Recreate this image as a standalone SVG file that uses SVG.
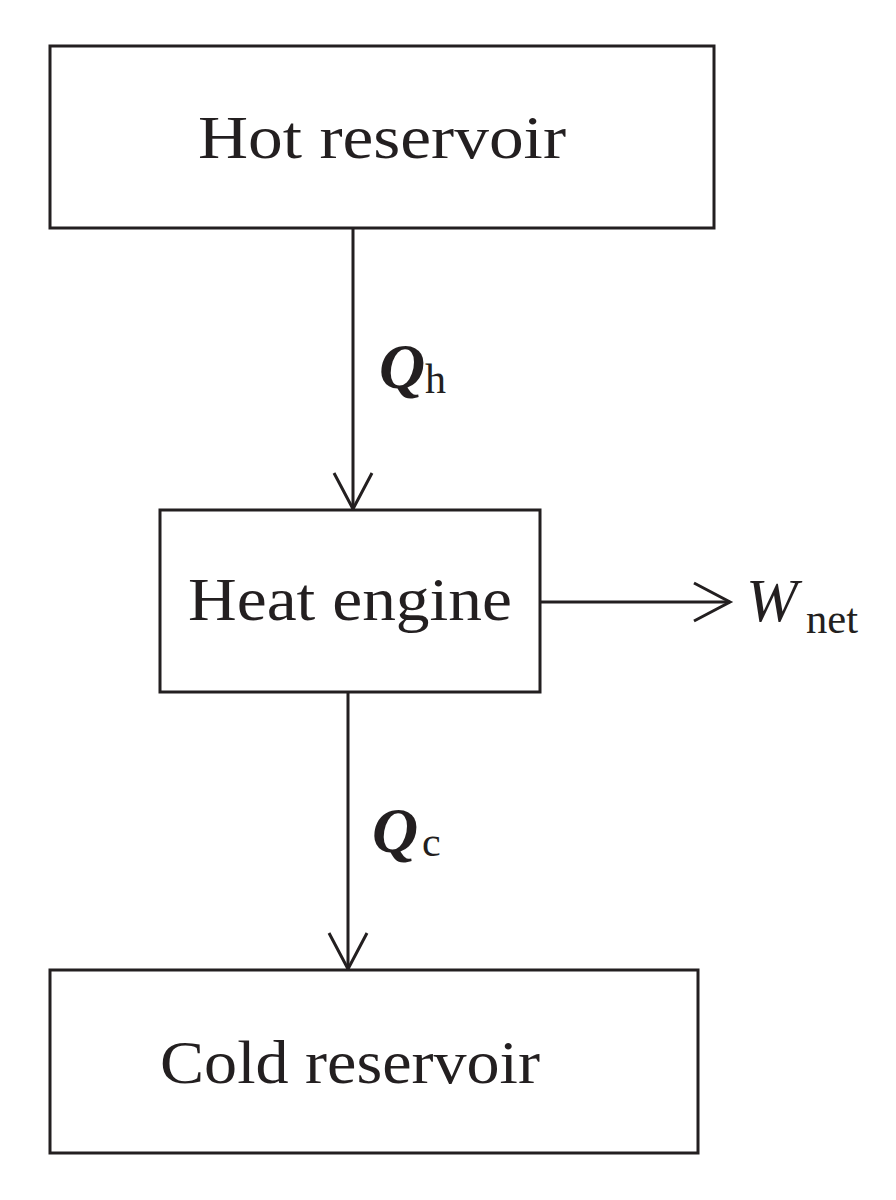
<svg xmlns="http://www.w3.org/2000/svg" width="896" height="1200" viewBox="0 0 896 1200">
<style>
.box{fill:#fff;stroke:#231f20;stroke-width:3}
.lbl{font-family:"Liberation Serif","DejaVu Serif",serif;font-size:62px;fill:#231f20;text-anchor:middle}
.q{font-family:"Liberation Serif","DejaVu Serif",serif;font-style:italic;font-weight:bold;font-size:64px;fill:#231f20}
.w{font-family:"Liberation Serif","DejaVu Serif",serif;font-style:italic;font-size:62px;fill:#231f20}
.sub{font-family:"Liberation Serif","DejaVu Serif",serif;font-size:42px;fill:#231f20}
.ln{stroke:#231f20;stroke-width:3;fill:none}
</style>
<defs>
<marker id="ah" markerUnits="userSpaceOnUse" markerWidth="50" markerHeight="50" refX="37" refY="20" orient="auto" viewBox="0 0 50 40">
<path d="M1,1 L37,20 L1,39" fill="none" stroke="#231f20" stroke-width="3"/>
</marker>
</defs>
<rect width="896" height="1200" fill="#fff"/>
<g id="connectors">
<line class="ln" x1="353" y1="228" x2="353" y2="509" marker-end="url(#ah)"/>
<line class="ln" x1="540" y1="602" x2="730" y2="602" marker-end="url(#ah)"/>
<line class="ln" x1="348" y1="692" x2="348" y2="969" marker-end="url(#ah)"/>
<text x="379" y="388" class="q">Q</text><text x="425" y="393" class="sub">h</text>
<text x="746" y="621" class="w">W</text><text x="806" y="633" class="sub" textLength="52" lengthAdjust="spacingAndGlyphs">net</text>
<text x="372" y="852" class="q">Q</text><text x="422" y="856" class="sub">c</text>
</g>
<g id="hot">
<rect class="box" x="50" y="46" width="664" height="182"/>
<text class="lbl" x="382" y="158" textLength="368" lengthAdjust="spacingAndGlyphs">Hot reservoir</text>
</g>
<g id="engine">
<rect class="box" x="160" y="510" width="380" height="182"/>
<text class="lbl" x="350" y="620" textLength="324" lengthAdjust="spacingAndGlyphs">Heat engine</text>
</g>
<g id="cold">
<rect class="box" x="50" y="970" width="648" height="183"/>
<text class="lbl" x="350" y="1083" textLength="380" lengthAdjust="spacingAndGlyphs">Cold reservoir</text>
</g>
</svg>
